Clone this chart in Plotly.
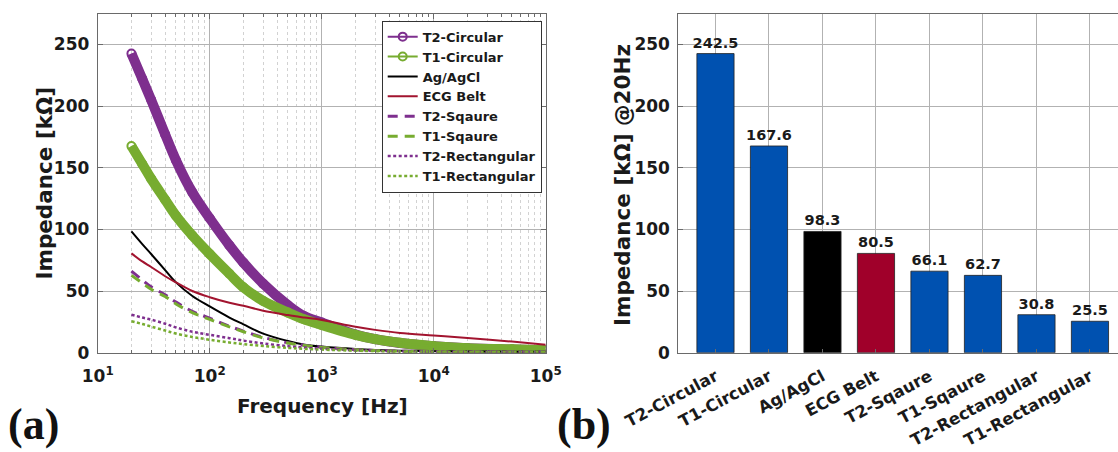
import plotly.graph_objects as go

# ---------------- data ----------------
freq = [20, 25, 30, 40, 50, 70, 100, 150, 200, 300, 500, 700, 1000, 2000, 3000,
        5000, 10000, 20000, 50000, 100000]
t2_circular = [242.5, 222, 205, 177, 156, 130, 109, 87, 73, 56, 38.5, 29.5, 24.5,
               14.8, 11.0, 7.8, 5.2, 3.6, 2.5, 1.9]
t1_circular = [167.6, 153, 141, 124, 111, 95, 80, 64, 53, 42, 32.5, 27, 22.5,
               14.5, 11.0, 8.0, 5.3, 3.7, 2.7, 2.0]
ag_agcl = [98.3, 88, 80, 67, 57, 46, 37.5, 28.5, 23, 15.5, 9.5, 6.5, 5.0,
           3.0, 2.2, 1.6, 1.2, 1.0, 0.8, 0.7]
ecg_belt = [80.5, 74, 69.5, 62, 57, 50, 45, 40.5, 38, 34, 30.5, 28.5, 26.5,
            21, 18.5, 16, 14, 12, 9, 6.5]
t2_square = [66.1, 59, 53.4, 47, 41, 33.5, 28, 21.5, 17.5, 12.5, 8.0, 6.0, 4.5,
             2.5, 1.8, 1.3, 1.0, 0.8, 0.6, 0.5]
t1_square = [62.7, 56.5, 51.5, 45.5, 39.5, 32.5, 27, 21, 17, 12, 7.8, 5.8, 4.3,
             2.4, 1.7, 1.2, 0.9, 0.7, 0.55, 0.45]
t2_rect = [30.8, 28.5, 26.8, 23.5, 20.5, 17, 14.5, 11.8, 9.8, 7.5, 5.3, 4.2, 3.2,
           2.0, 1.5, 1.1, 0.8, 0.6, 0.5, 0.4]
t1_rect = [25.5, 23.3, 21.2, 18, 15.5, 12.8, 10.5, 8.3, 7.0, 5.4, 3.9, 3.1, 2.5,
           1.6, 1.2, 0.9, 0.7, 0.5, 0.4, 0.35]

bar_labels = ["T2-Circular", "T1-Circular", "Ag/AgCl", "ECG Belt", "T2-Sqaure",
              "T1-Sqaure", "T2-Rectangular", "T1-Rectangular"]
bar_values = [242.5, 167.6, 98.3, 80.5, 66.1, 62.7, 30.8, 25.5]

x_tickvals = [10, 100, 1000, 10000, 100000]
x_ticktext = ["10<sup>1</sup>", "10<sup>2</sup>", "10<sup>3</sup>",
              "10<sup>4</sup>", "10<sup>5</sup>"]
x_minor_vals = [m * d for d in (10, 100, 1000, 10000) for m in range(2, 10)]
y_tickvals = [0, 50, 100, 150, 200, 250]

# ---------------- styles ----------------
PURPLE = "#7E2F8E"
GREEN = "#77AC30"
RED = "#A2142F"
BLACK = "#000000"
BLUE = "#0051B0"
BAR_RED = "#A0002A"
bar_colors = [BLUE, BLUE, BLACK, BAR_RED, BLUE, BLUE, BLUE, BLUE]

FONT = "DejaVu Sans"
TXT = "#1a1a1a"
GRID = "#b2b2b2"
SPINE = "#6a6a6a"

W, H = 1118, 452
def px_x(p):
    return p / W
def px_y(p):
    return 1 - p / H

fig = go.Figure()

for name, vals, col in [("T2-Circular", t2_circular, PURPLE),
                        ("T1-Circular", t1_circular, GREEN)]:
    fig.add_trace(go.Scatter(x=freq, y=vals, mode="lines", showlegend=False,
                             line=dict(color=col, width=10, shape="spline"),
                             hoverinfo="skip", legendgroup=name))
    fig.add_trace(go.Scatter(x=freq, y=vals, mode="lines+markers", name=name,
                             legendgroup=name,
                             line=dict(color=col, width=2, shape="spline"),
                             marker=dict(symbol="circle-open", size=8, color=col,
                                         line=dict(width=2, color=col))))

fig.add_trace(go.Scatter(x=freq, y=ag_agcl, mode="lines", name="Ag/AgCl",
                         line=dict(color=BLACK, width=2, shape="spline")))
fig.add_trace(go.Scatter(x=freq, y=ecg_belt, mode="lines", name="ECG Belt",
                         line=dict(color=RED, width=2, shape="spline")))
fig.add_trace(go.Scatter(x=freq, y=t2_square, mode="lines", name="T2-Sqaure",
                         line=dict(color=PURPLE, width=3, dash="10px,7px", shape="spline")))
fig.add_trace(go.Scatter(x=freq, y=t1_square, mode="lines", name="T1-Sqaure",
                         line=dict(color=GREEN, width=3, dash="10px,7px", shape="spline")))
fig.add_trace(go.Scatter(x=freq, y=t2_rect, mode="lines", name="T2-Rectangular",
                         line=dict(color=PURPLE, width=2.5, dash="3px,2.5px", shape="spline")))
fig.add_trace(go.Scatter(x=freq, y=t1_rect, mode="lines", name="T1-Rectangular",
                         line=dict(color=GREEN, width=2.5, dash="3px,2.5px", shape="spline")))

bar_pos = list(range(1, len(bar_labels) + 1))
fig.add_trace(go.Bar(x=bar_pos, y=bar_values, xaxis="x2", yaxis="y2",
                     width=0.695, showlegend=False,
                     marker=dict(color=bar_colors, line=dict(color="#222222", width=0.8)),
                     text=[f"{v:.1f}" for v in bar_values], textposition="outside",
                     constraintext="none", cliponaxis=False,
                     textfont=dict(family=FONT, size=14.5, color=TXT, weight="bold")))

tickfont = dict(family=FONT, size=17, color=TXT, weight="bold")
title_font = dict(family=FONT, size=20, color=TXT, weight="bold")
ytitle_font = dict(family=FONT, size=21.5, color=TXT, weight="bold")
ydom = [px_y(352.7), px_y(13.5)]

fig.update_layout(
    width=W, height=H, margin=dict(l=0, r=0, t=0, b=0, pad=0, autoexpand=False),
    autosize=False,
    paper_bgcolor="white", plot_bgcolor="white",
    showlegend=True,
    legend=dict(x=px_x(381.7), y=px_y(20.7), xanchor="left", yanchor="top",
                bgcolor="white", bordercolor="#333333", borderwidth=1,
                font=dict(family=FONT, size=13, color=TXT, weight="bold"),
                tracegroupgap=0, itemwidth=30),
    xaxis=dict(type="log", domain=[px_x(97.7), px_x(545.7)], range=[1, 5],
               tickvals=x_tickvals, ticktext=x_ticktext, tickfont=tickfont,
               showgrid=True, gridcolor=GRID, gridwidth=1,
               showline=True, linecolor=SPINE, linewidth=1, mirror="ticks",
               ticks="inside", ticklen=5, tickcolor=SPINE, ticklabelstandoff=8,
               minor=dict(tickvals=x_minor_vals, ticks="inside", ticklen=3,
                          tickcolor=SPINE, showgrid=True, gridcolor="#d2d2d2",
                          griddash="dot"),
               zeroline=False, anchor="y", automargin=False),
    yaxis=dict(domain=ydom, range=[0, 275], tickvals=y_tickvals, tickfont=tickfont,
               showgrid=True, gridcolor=GRID, gridwidth=1,
               showline=True, linecolor=SPINE, linewidth=1, mirror="ticks",
               ticks="inside", ticklen=5, tickcolor=SPINE,
               zeroline=False, anchor="x", ticklabelstandoff=4, automargin=False),
    xaxis2=dict(domain=[px_x(678.3), 1.0], range=[0.305, 8.524],
                tickvals=bar_pos, ticktext=bar_labels, tickangle=-28,
                tickfont=dict(family=FONT, size=16.5, color=TXT, weight="bold"),
                showgrid=True, gridcolor=GRID, gridwidth=1,
                showline=True, linecolor=SPINE, linewidth=1, mirror=True,
                ticks="inside", ticklen=4, tickcolor=SPINE, ticklabelstandoff=7,
                zeroline=False, anchor="y2", automargin=False),
    yaxis2=dict(domain=ydom, range=[0, 275], tickvals=y_tickvals,
                tickfont=dict(family=FONT, size=17, color=TXT, weight="bold"),
                showgrid=True, gridcolor=GRID, gridwidth=1,
                showline=True, linecolor=SPINE, linewidth=1,
                ticks="inside", ticklen=5, tickcolor=SPINE,
                zeroline=False, anchor="x2", ticklabelstandoff=4, automargin=False),
)

titles = [
    dict(text="Impedance [kΩ]", x=px_x(43.5), y=px_y(183), textangle=-90, font=ytitle_font),
    dict(text="Impedance [kΩ] @20Hz", x=px_x(622), y=px_y(185), textangle=-90, font=ytitle_font),
    dict(text="Frequency [Hz]", x=px_x(322), y=px_y(406), font=title_font),
]
panel_font = dict(family="Liberation Serif", size=44, color="#111111", weight="bold")
titles += [dict(text="(a)", x=px_x(33.5), y=px_y(424), font=panel_font),
           dict(text="(b)", x=px_x(583.5), y=px_y(424), font=panel_font)]
for a in titles:
    fig.add_annotation(xref="paper", yref="paper", showarrow=False,
                       xanchor="center", yanchor="middle", **a)

fig.write_html("out.html")
